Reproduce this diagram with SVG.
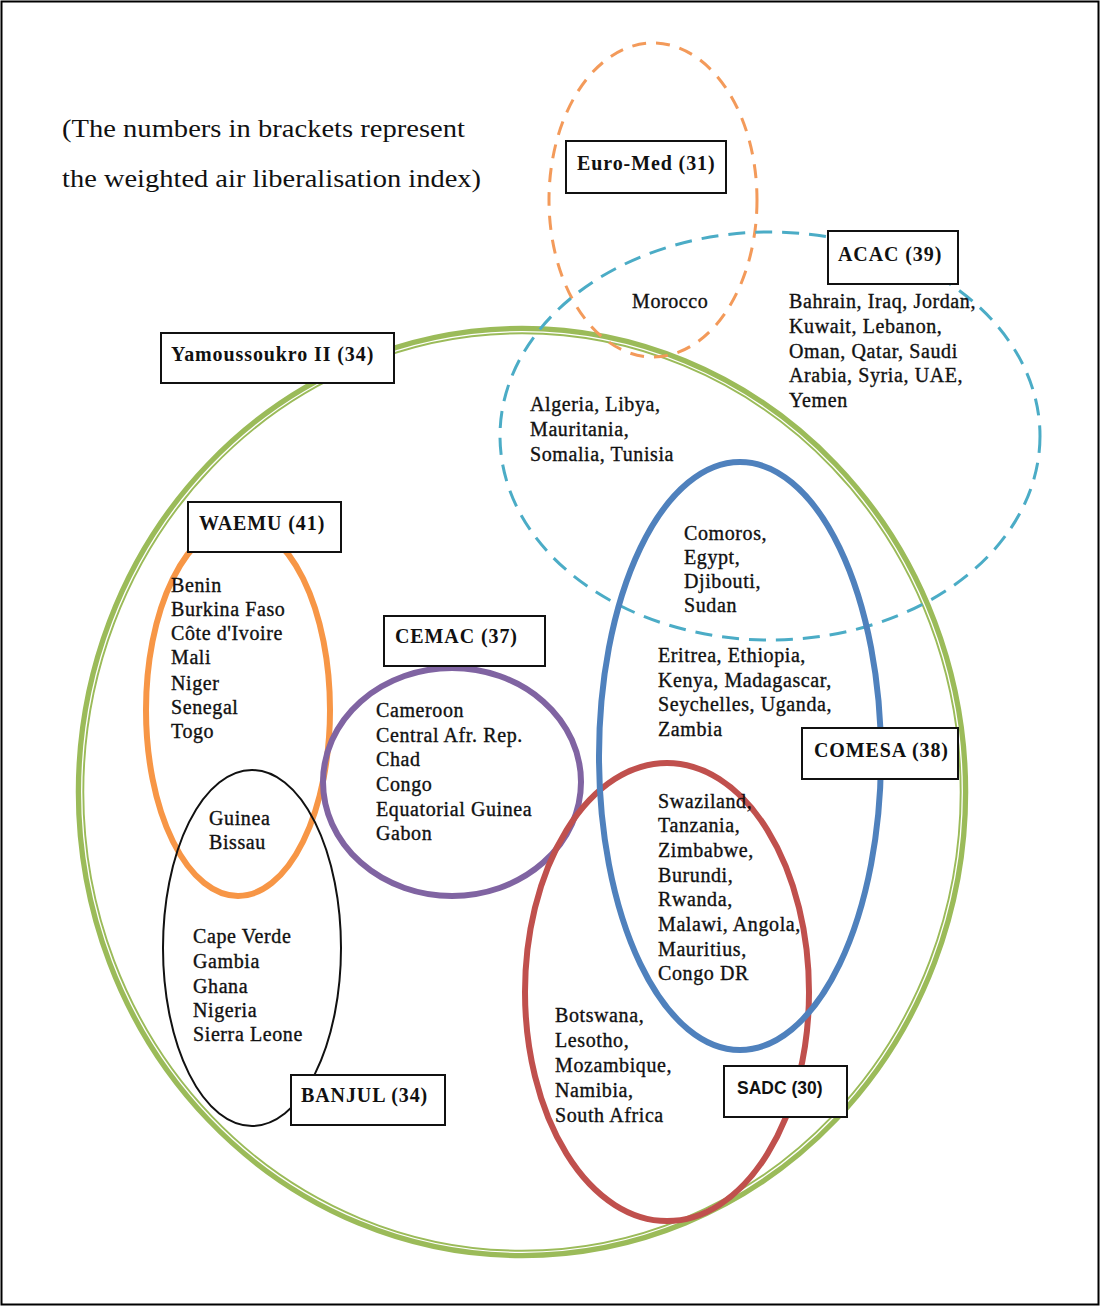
<svg xmlns="http://www.w3.org/2000/svg" width="1101" height="1307" viewBox="0 0 1101 1307">
<style>
.t{font-family:"Liberation Serif","Times New Roman",serif;font-size:20px;letter-spacing:0.6px;fill:#111;stroke:#111;stroke-width:0.35}
.lb{font-family:"Liberation Serif","Times New Roman",serif;font-size:20px;letter-spacing:0.9px;font-weight:bold;fill:#111}
.box{fill:#fff;stroke:#111;stroke-width:2}
.hd{font-family:"Liberation Serif","Times New Roman",serif;font-size:26px;fill:#111}
</style>
<rect x="1.5" y="1.5" width="1097" height="1303" fill="#fff" stroke="#000" stroke-width="2"/>
<text class="hd" x="62" y="137" textLength="403" lengthAdjust="spacingAndGlyphs">(The numbers in brackets represent</text>
<text class="hd" x="62" y="187" textLength="419" lengthAdjust="spacingAndGlyphs">the weighted air liberalisation index)</text>
<g id="connectors"></g>
<g id="yamoussoukro">
<ellipse cx="522" cy="792" rx="442" ry="462" fill="none" stroke="#9bbb59" stroke-width="8.5"/>
<ellipse cx="522" cy="792" rx="440.3" ry="460.3" fill="none" stroke="#fff" stroke-width="1.3"/>
</g>
<g id="euromed">
<ellipse cx="653" cy="200" rx="104" ry="157" fill="none" stroke="#f39a5a" stroke-width="3" stroke-dasharray="14,10"/>
</g>
<g id="acac">
<ellipse cx="770" cy="436" rx="270" ry="204" fill="none" stroke="#4bacc6" stroke-width="3" stroke-dasharray="17,10"/>
</g>
<g id="waemu">
<ellipse cx="238" cy="710" rx="92" ry="186" fill="none" stroke="#f79646" stroke-width="6"/>
</g>
<g id="cemac">
<ellipse cx="452" cy="782" rx="129" ry="114" fill="none" stroke="#8064a2" stroke-width="6"/>
</g>
<g id="banjul">
<ellipse cx="252" cy="948" rx="89" ry="178" fill="none" stroke="#111" stroke-width="2"/>
</g>
<g id="sadc">
<ellipse cx="667" cy="992" rx="142" ry="229" fill="none" stroke="#c0504d" stroke-width="6"/>
</g>
<g id="comesa">
<ellipse cx="740" cy="756" rx="141" ry="294" fill="none" stroke="#4f81bd" stroke-width="6"/>
</g>
<g id="labels">
<rect class="box" x="566" y="141" width="160" height="52"/>
<text class="lb" x="577" y="170">Euro-Med (31)</text>
<rect class="box" x="828" y="231" width="130" height="53"/>
<text class="lb" x="838" y="261">ACAC (39)</text>
<rect class="box" x="161" y="333" width="233" height="50"/>
<text class="lb" x="171" y="361">Yamoussoukro II (34)</text>
<rect class="box" x="188" y="502" width="153" height="50"/>
<text class="lb" x="199" y="530">WAEMU (41)</text>
<rect class="box" x="384" y="616" width="161" height="50"/>
<text class="lb" x="395" y="643">CEMAC (37)</text>
<rect class="box" x="802" y="728" width="156" height="51"/>
<text class="lb" x="814" y="757">COMESA (38)</text>
<rect class="box" x="724" y="1066" width="123" height="51"/>
<text x="737" y="1094" style="font-family:'Liberation Sans',Arial,sans-serif;font-size:17.5px;font-weight:bold;fill:#111">SADC (30)</text>
<rect class="box" x="291" y="1075" width="154" height="50"/>
<text class="lb" x="301" y="1102">BANJUL (34)</text>
</g>
<g id="countries">
<text class="t" x="632" y="308">Morocco</text>
<text class="t" x="789" y="308">Bahrain, Iraq, Jordan,</text>
<text class="t" x="789" y="333">Kuwait, Lebanon,</text>
<text class="t" x="789" y="358">Oman, Qatar, Saudi</text>
<text class="t" x="789" y="382">Arabia, Syria, UAE,</text>
<text class="t" x="789" y="407">Yemen</text>
<text class="t" x="530" y="411">Algeria, Libya,</text>
<text class="t" x="530" y="436">Mauritania,</text>
<text class="t" x="530" y="461">Somalia, Tunisia</text>
<text class="t" x="171" y="592">Benin</text>
<text class="t" x="171" y="616">Burkina Faso</text>
<text class="t" x="171" y="640">Côte d'Ivoire</text>
<text class="t" x="171" y="664">Mali</text>
<text class="t" x="171" y="690">Niger</text>
<text class="t" x="171" y="714">Senegal</text>
<text class="t" x="171" y="738">Togo</text>
<text class="t" x="209" y="825">Guinea</text>
<text class="t" x="209" y="849">Bissau</text>
<text class="t" x="193" y="943">Cape Verde</text>
<text class="t" x="193" y="968">Gambia</text>
<text class="t" x="193" y="993">Ghana</text>
<text class="t" x="193" y="1017">Nigeria</text>
<text class="t" x="193" y="1041">Sierra Leone</text>
<text class="t" x="376" y="717">Cameroon</text>
<text class="t" x="376" y="742">Central Afr. Rep.</text>
<text class="t" x="376" y="766">Chad</text>
<text class="t" x="376" y="791">Congo</text>
<text class="t" x="376" y="816">Equatorial Guinea</text>
<text class="t" x="376" y="840">Gabon</text>
<text class="t" x="684" y="540">Comoros,</text>
<text class="t" x="684" y="564">Egypt,</text>
<text class="t" x="684" y="588">Djibouti,</text>
<text class="t" x="684" y="612">Sudan</text>
<text class="t" x="658" y="662">Eritrea, Ethiopia,</text>
<text class="t" x="658" y="687">Kenya, Madagascar,</text>
<text class="t" x="658" y="711">Seychelles, Uganda,</text>
<text class="t" x="658" y="736">Zambia</text>
<text class="t" x="658" y="808">Swaziland,</text>
<text class="t" x="658" y="832">Tanzania,</text>
<text class="t" x="658" y="857">Zimbabwe,</text>
<text class="t" x="658" y="882">Burundi,</text>
<text class="t" x="658" y="906">Rwanda,</text>
<text class="t" x="658" y="931">Malawi, Angola,</text>
<text class="t" x="658" y="956">Mauritius,</text>
<text class="t" x="658" y="980">Congo DR</text>
<text class="t" x="555" y="1022">Botswana,</text>
<text class="t" x="555" y="1047">Lesotho,</text>
<text class="t" x="555" y="1072">Mozambique,</text>
<text class="t" x="555" y="1097">Namibia,</text>
<text class="t" x="555" y="1122">South Africa</text>
</g>
</svg>
